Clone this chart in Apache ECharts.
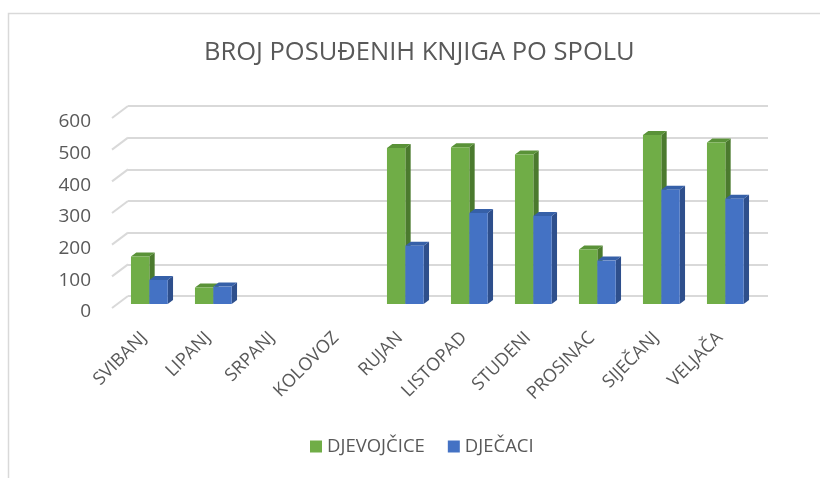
<!DOCTYPE html>
<html>
<head>
<meta charset="utf-8">
<script src="https://cdn.jsdelivr.net/npm/echarts@6/dist/echarts.min.js"></script>
<style>
  html, body { margin: 0; padding: 0; background: #fff; }
  #chart { width: 820px; height: 478px; }
</style>
</head>
<body>
<div id="chart"></div>
<script>
// podaci
var months = ['SVIBANJ', 'LIPANJ', 'SRPANJ', 'KOLOVOZ', 'RUJAN', 'LISTOPAD', 'STUDENI', 'PROSINAC', 'SIJEČANJ', 'VELJAČA'];
var djevojcice = [150, 52, 0, 0, 493, 495, 472, 172, 534, 510];
var djecaci = [76, 55, 0, 0, 184, 287, 278, 137, 361, 332];
var yTicks = [0, 100, 200, 300, 400, 500, 600];

var FONT = 'Open Sans';
var TXT = '#595959';
// pomak dubine (3D efekt), od prednje ravnine do zadnjeg zida
var DX = 16, DY = -12;

var myChart = echarts.init(document.getElementById('chart'));

// crta 3D stupac: prednja strana, bocna strana, gornja strana
function bar3d(side, colors) {
    return function (params, api) {
        var idx = api.value(0);
        var top = api.coord([idx, api.value(1)]);
        var base = api.coord([idx, 0]);
        var band = api.size([1, 0])[0];
        var bw = band * 0.287;
        var ox = DX / 3, oy = DY / 3;       // stupci su na trećini dubine
        var dx = DX / 3, dy = DY / 3;       // dubina stupca
        var x0 = top[0] + ox + (side === 0 ? -bw : 0);
        var x1 = x0 + bw;
        var yt = top[1] + oy, yb = base[1] + oy;
        if (yb - yt < 0.5) return;
        return {
            type: 'group',
            children: [
                { type: 'polygon', shape: { points: [[x1, yt], [x1 + dx, yt + dy], [x1 + dx, yb + dy], [x1, yb]] }, style: { fill: colors[1] } },
                { type: 'polygon', shape: { points: [[x0, yt], [x0 + dx, yt + dy], [x1 + dx, yt + dy], [x1, yt]] }, style: { fill: colors[2] } },
                { type: 'rect', shape: { x: x0, y: yt, width: bw, height: yb - yt }, style: { fill: colors[0] } }
            ]
        };
    };
}

var option = {
    backgroundColor: '#fff',
    textStyle: { fontFamily: FONT },
    title: {
        text: 'BROJ POSUĐENIH KNJIGA PO SPOLU',
        left: 199,
        top: 35,
        textStyle: { fontFamily: FONT, fontSize: 25.5, fontWeight: 'normal', color: TXT }
    },
    graphic: [{
        type: 'rect',
        left: 6, top: 11,
        shape: { width: 830, height: 480 },
        style: { fill: 'none', stroke: '#d9d9d9', lineWidth: 1.5 },
        silent: true
    }],
    legend: {
        bottom: 17,
        left: 305,
        icon: 'rect',
        itemWidth: 12,
        itemHeight: 12,
        itemGap: 23,
        textStyle: { fontFamily: FONT, fontSize: 18.5, color: TXT },
        data: ['DJEVOJČICE', 'DJEČACI']
    },
    grid: [
        { left: 112, top: 118, width: 640, height: 190 },   // prednja ravnina
        { left: 112 + DX, top: 118 + DY, width: 640, height: 190 }  // zadnji zid
    ],
    xAxis: [
        {
            type: 'category', gridIndex: 0, data: months,
            axisLine: { show: false }, axisTick: { show: false },
            axisLabel: { rotate: 45, fontFamily: FONT, fontSize: 18, color: TXT, margin: 27, interval: 0 }
        },
        {
            type: 'category', gridIndex: 1, data: months, show: false
        }
    ],
    yAxis: [
        {
            type: 'value', gridIndex: 0, min: 0, max: 600, interval: 100,
            axisLine: { show: false }, axisTick: { show: false }, splitLine: { show: false },
            axisLabel: { fontFamily: FONT, fontSize: 19, color: TXT, margin: 21, verticalAlign: 'top', lineHeight: 8 }
        },
        {
            type: 'value', gridIndex: 1, min: 0, max: 600, interval: 100,
            axisLine: { show: false }, axisTick: { show: false }, axisLabel: { show: false },
            splitLine: { lineStyle: { color: '#d9d9d9', width: 2 } }
        }
    ],
    series: [
        {
            // kose linije s lijeve strane (bočni zid)
            type: 'custom', xAxisIndex: 0, yAxisIndex: 0, silent: true,
            data: yTicks.map(function (t) { return [0, t]; }),
            renderItem: function (params, api) {
                var p = api.coord([0, api.value(1)]);
                var x = p[0] - api.size([1, 0])[0] / 2;
                return {
                    type: 'line',
                    shape: { x1: x, y1: p[1], x2: x + DX, y2: p[1] + DY },
                    style: { stroke: '#d9d9d9', lineWidth: 2 }
                };
            },
            z: 1
        },
        {
            name: 'DJEVOJČICE', type: 'custom', xAxisIndex: 0, yAxisIndex: 0,
            itemStyle: { color: '#70ad47' },
            data: djevojcice.map(function (v, i) { return [i, v]; }),
            renderItem: bar3d(0, ['#70ad47', '#4b7a2e', '#5a9238']),
            z: 2
        },
        {
            name: 'DJEČACI', type: 'custom', xAxisIndex: 0, yAxisIndex: 0,
            itemStyle: { color: '#4472c4' },
            data: djecaci.map(function (v, i) { return [i, v]; }),
            renderItem: bar3d(1, ['#4472c4', '#2e4f8c', '#3660a8']),
            z: 3
        }
    ]
};
myChart.setOption(option);
</script>
</body>
</html>
